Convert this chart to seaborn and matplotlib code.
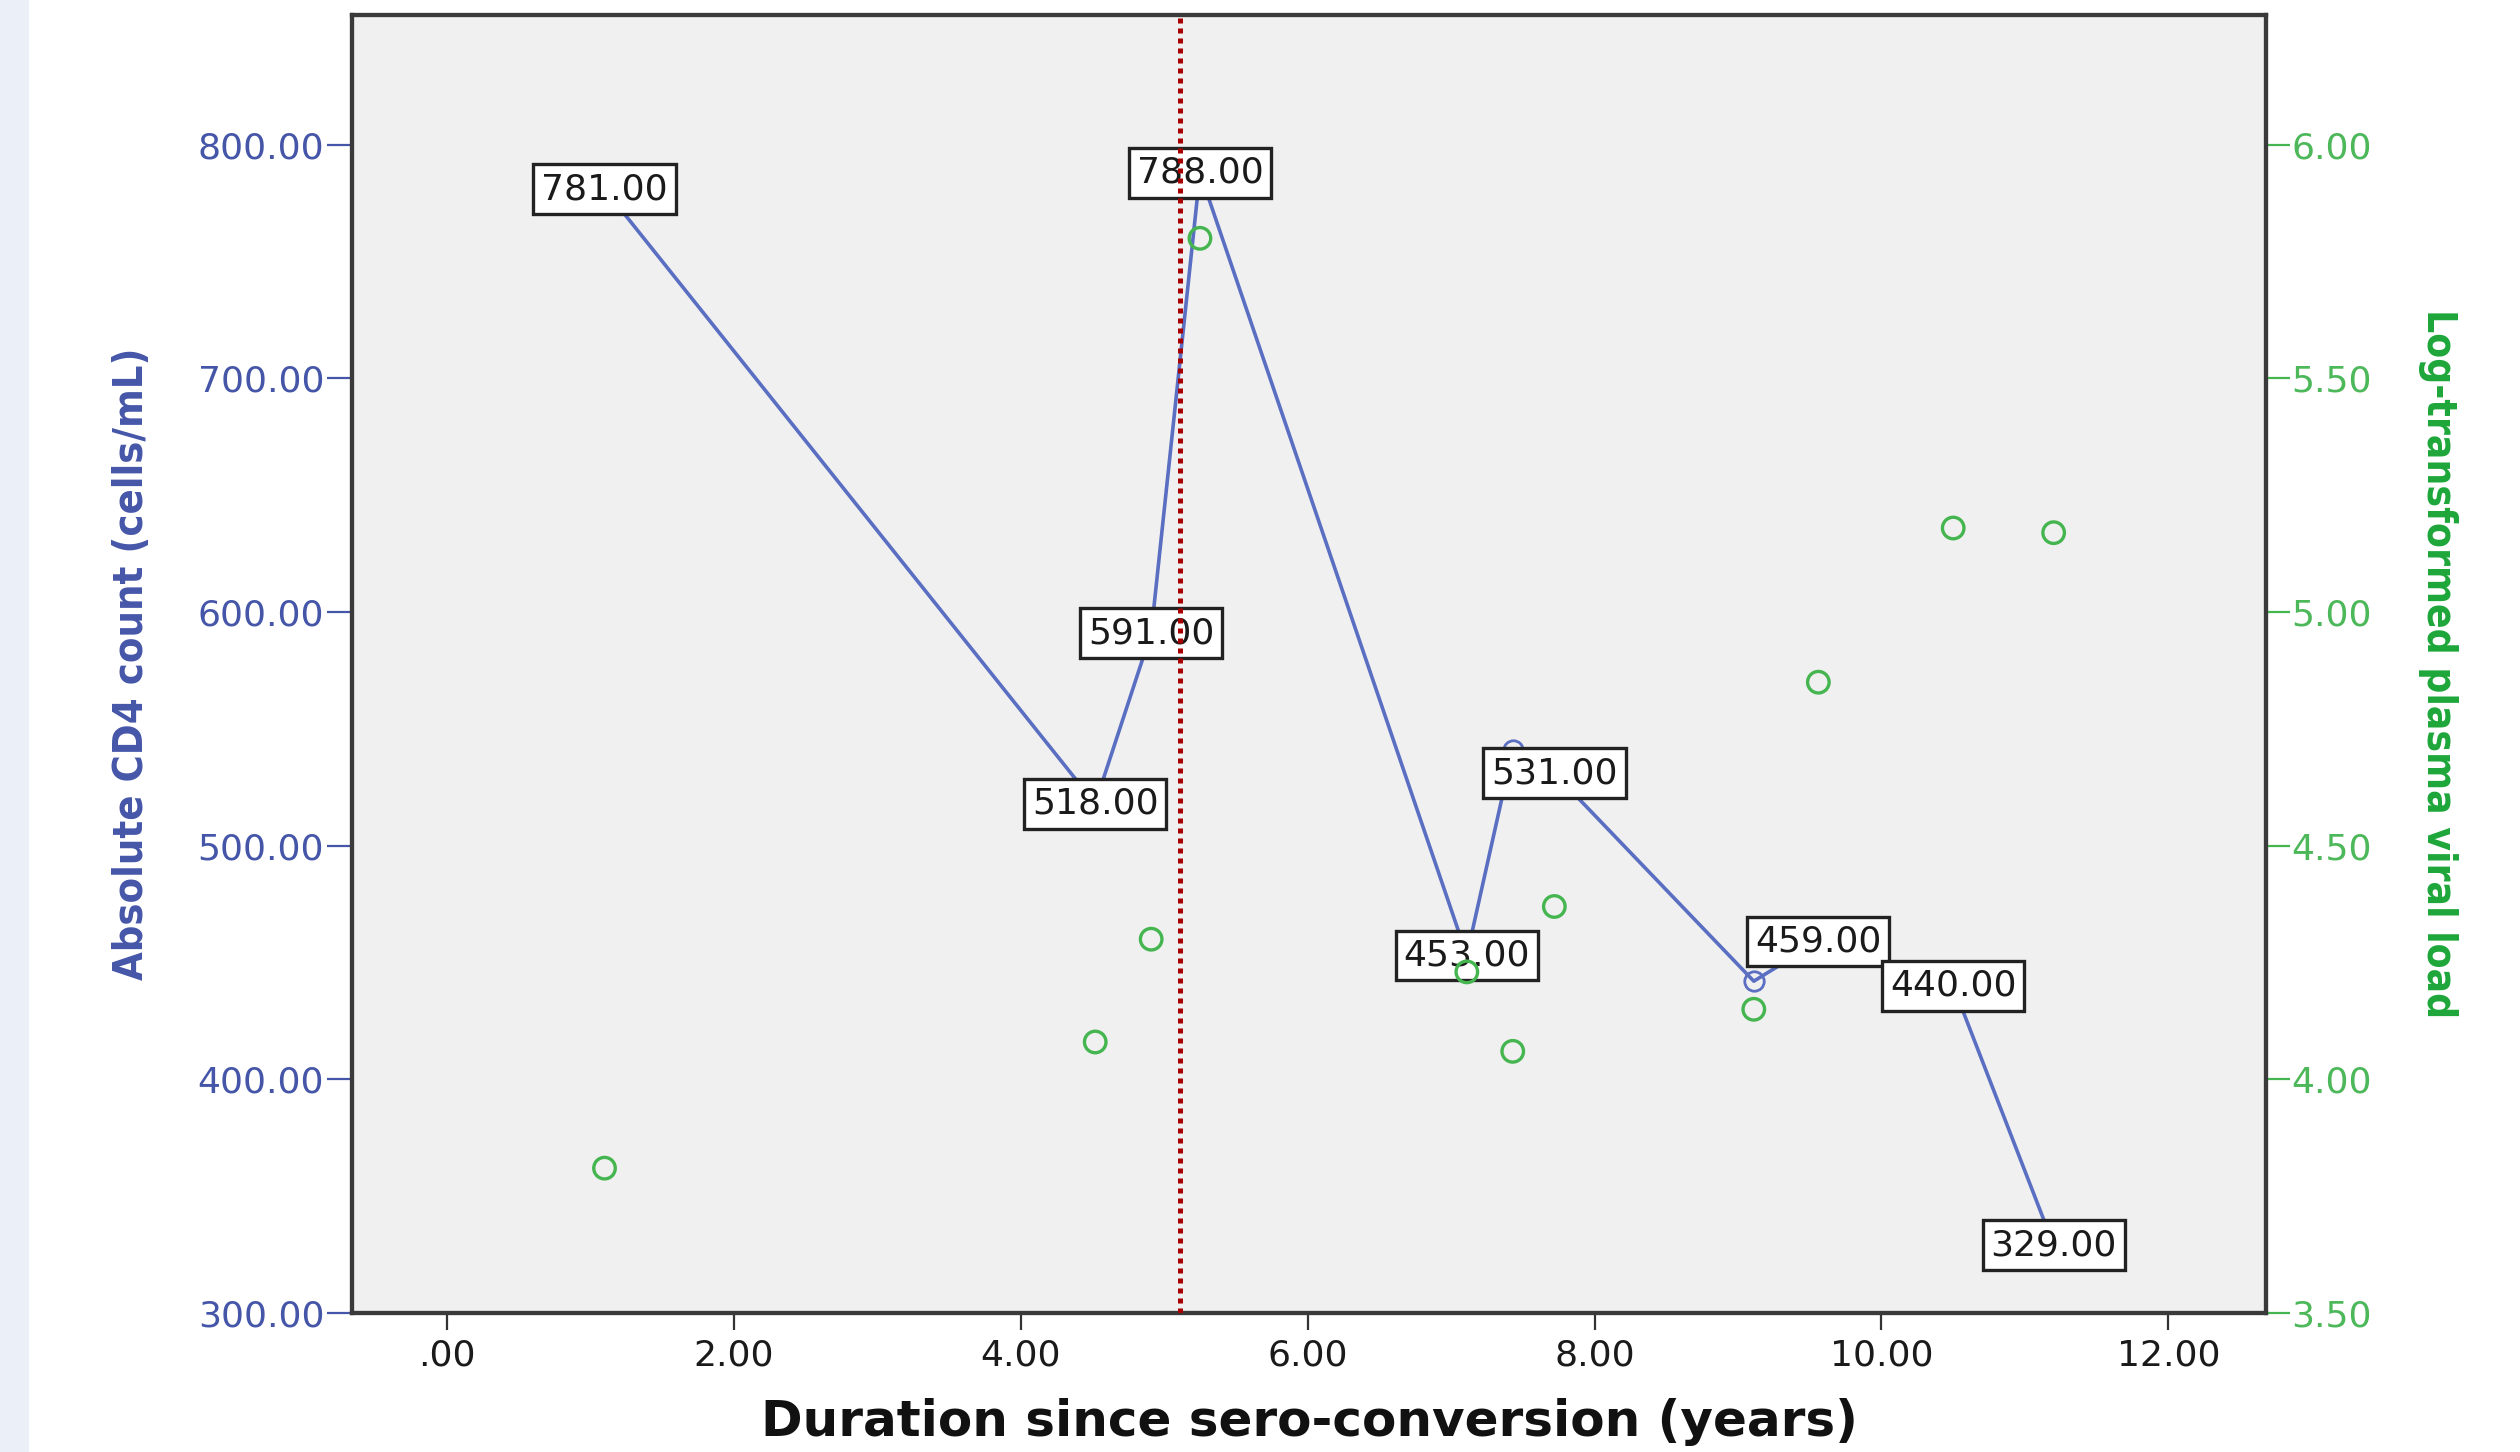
import matplotlib
matplotlib.use("Agg")
import matplotlib.pyplot as plt
from matplotlib.patches import Rectangle
from matplotlib.ticker import FuncFormatter
import seaborn as sns
import pandas as pd

# ---- data ----
years = [1.10, 4.52, 4.91, 5.25, 7.11, 7.43, 7.72, 9.11, 9.56, 10.50, 11.20]
cd4_count = [781, 518, 591, 788, 453, 541, 531, 442, 459, 440, 329]
cd4_labelled = [True, True, True, True, True, False, True, False, True, True, True]
log_viral_load = [3.81, 4.08, 4.30, 5.80, 4.23, 4.06, 4.37, 4.15, 4.85, 5.18, 5.17]
art_start_year = 5.11

x_ticks = [0, 2, 4, 6, 8, 10, 12]
cd4_ticks = [300, 400, 500, 600, 700, 800]
vl_ticks = [3.5, 4.0, 4.5, 5.0, 5.5, 6.0]

x_title = "Duration since sero-conversion (years)"
cd4_title = "Absolute CD4 count (cells/mL)"
vl_title = "Log-transformed plasma viral load"

df = pd.DataFrame({"years": years, "cd4": cd4_count, "vl": log_viral_load})

# ---- style ----
sns.set_style("white")
plt.rcParams["font.family"] = ["DejaVu Sans"]

BLUE_LINE = "#5A6EC2"
BLUE_TXT = "#4556A8"
GREEN_PT = "#45B550"
GREEN_TXT = "#4DB85A"
GREEN_TITLE = "#1DA63A"
SPINE = "#3A3A3A"

fig = plt.figure(figsize=(25.2, 14.52), dpi=100)
fig.patch.set_facecolor("white")
fig.patches.append(Rectangle((0, 0), 29 / 2520, 1, transform=fig.transFigure,
                             facecolor="#EBEFF7", edgecolor="none", zorder=0))

ax = fig.add_axes([352 / 2520, 1 - 1313 / 1452, (2266 - 352) / 2520, (1313 - 14.5) / 1452])
ax.set_facecolor("#F0F0F0")

sns.lineplot(data=df, x="years", y="cd4", ax=ax, color=BLUE_LINE, linewidth=2.6,
             marker="o", markersize=14, markerfacecolor="none",
             markeredgecolor=BLUE_LINE, markeredgewidth=2.0, zorder=2)

for xv, yv, show in zip(years, cd4_count, cd4_labelled):
    if show:
        ax.text(xv, yv, f"{yv:.2f}", ha="center", va="center", fontsize=26,
                color="#1A1A1A", zorder=5,
                bbox=dict(boxstyle="square,pad=0.22", fc="white", ec="#222222", lw=2.4))

ax.set_xlim(-0.66, 12.68)
ax.set_ylim(300, 855.7)

ax2 = ax.twinx()
ax2.set_ylim(3.5, 6.279)
sns.scatterplot(data=df, x="years", y="vl", ax=ax2, marker="o", s=240,
                color=GREEN_PT, facecolors="none", edgecolors=GREEN_PT,
                linewidth=2.4, zorder=6)
ax2.axvline(art_start_year, color="#A80000", linestyle=(0, (1, 1)), linewidth=3.6, zorder=7)

fmt = FuncFormatter(lambda v, p: (lambda s: s[1:] if s.startswith("0.") else s)(f"{v:.2f}"))

ax.set_xticks(x_ticks)
ax.set_yticks(cd4_ticks)
ax2.set_yticks(vl_ticks)
ax.xaxis.set_major_formatter(fmt)
ax.yaxis.set_major_formatter(fmt)
ax2.yaxis.set_major_formatter(fmt)

ax.tick_params(axis="x", direction="out", length=12, width=1.6, color="#333333",
               labelsize=26, labelcolor="#1A1A1A", pad=6, bottom=True)
ax.tick_params(axis="y", direction="out", length=18, width=1.6, color=BLUE_TXT,
               labelsize=26, labelcolor=BLUE_TXT, pad=2, left=True)
ax2.tick_params(axis="y", direction="out", length=17, width=1.6, color=GREEN_PT,
                labelsize=26, labelcolor=GREEN_TXT, pad=1, right=True)

for a in (ax, ax2):
    for s in a.spines.values():
        s.set_color(SPINE)
        s.set_linewidth(3)
        s.set_visible(True)

narrow = ["Liberation Sans Narrow", "DejaVu Sans"]

ax.set_xlabel(x_title, fontsize=36, fontweight="bold", color="#111111")
ax.xaxis.set_label_coords(0.5, -0.084)
ax.xaxis.label.set_va("center")

ax.set_ylabel(cd4_title, fontsize=31, fontweight="bold", color=BLUE_TXT,
              family=narrow, fontstretch="condensed")
ax.yaxis.set_label_coords(-0.115, 0.5)
ax.yaxis.label.set_va("center")

ax2.set_ylabel(vl_title, fontsize=32, fontweight="bold", color=GREEN_TITLE,
               rotation=270, family=narrow, fontstretch="condensed")
ax2.yaxis.set_label_coords(1.0899, 0.5)
ax2.yaxis.label.set_va("center")

# fit the axis titles to the length they have in the reference (pixels)
fig.canvas.draw()
renderer = fig.canvas.get_renderer()
for lab, target, horizontal in ((ax.xaxis.label, 1098, True),
                                (ax.yaxis.label, 632, False),
                                (ax2.yaxis.label, 710, False)):
    bb = lab.get_window_extent(renderer)
    cur = bb.width if horizontal else bb.height
    if cur > 0:
        lab.set_fontsize(lab.get_fontsize() * target / cur)

fig.savefig("out.png", dpi=100)
